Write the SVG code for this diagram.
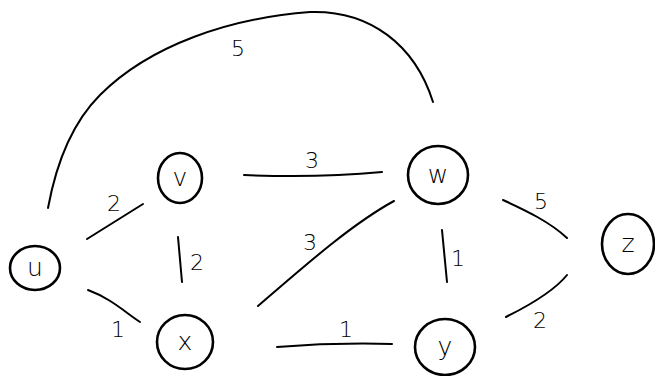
<svg xmlns="http://www.w3.org/2000/svg" width="655" height="376" viewBox="0 0 655 376">
<style>
.n{fill:none;stroke:#000;stroke-width:2.6}
.e{fill:none;stroke:#000;stroke-width:2;stroke-linecap:round}
text{font-family:"DejaVu Sans","Liberation Sans",sans-serif;font-weight:300;fill:#000}
.lb{font-size:25px;text-anchor:middle}
.w{font-size:22px;text-anchor:middle}
</style>
<rect width="655" height="376" fill="#fff"/>
<g id="connectors">
<path class="e" d="M48,208 C55,170 70,125 100,95 C150,45 230,18 310,12 C370,10 415,45 433,102"/>
<path class="e" d="M87,239 L143,204"/>
<path class="e" d="M178,237 L182,282"/>
<path class="e" d="M88,290 C110,298 125,312 140,322"/>
<path class="e" d="M244,175 C290,177 340,176 382,172"/>
<path class="e" d="M258,306 C300,270 350,225 394,201"/>
<path class="e" d="M277,347 C315,344 355,343 392,344"/>
<path class="e" d="M442,230 L447,282"/>
<path class="e" d="M503,200 C525,210 550,222 567,238"/>
<path class="e" d="M506,317 C530,305 555,290 567,275"/>
</g>
<g id="edge-labels">
<text class="w" x="238" y="56">5</text>
<text class="w" x="114" y="211">2</text>
<text class="w" x="197" y="270">2</text>
<text class="w" x="118" y="337">1</text>
<text class="w" x="312" y="168">3</text>
<text class="w" x="310" y="250">3</text>
<text class="w" x="346" y="337">1</text>
<text class="w" x="458" y="266">1</text>
<text class="w" x="541" y="209">5</text>
<text class="w" x="540" y="328">2</text>
</g>
<g id="u"><ellipse class="n" cx="35" cy="268" rx="25" ry="22"/><text class="lb" x="35" y="276">u</text></g>
<g id="v"><ellipse class="n" cx="180" cy="178" rx="22" ry="25"/><text class="lb" x="180" y="186">v</text></g>
<g id="w"><ellipse class="n" cx="438" cy="175" rx="30" ry="29"/><text class="lb" x="438" y="183">w</text></g>
<g id="x"><ellipse class="n" cx="185" cy="342" rx="28" ry="27"/><text class="lb" x="185" y="350">x</text></g>
<g id="y"><ellipse class="n" cx="445" cy="347" rx="30" ry="28"/><text class="lb" x="445" y="355">y</text></g>
<g id="z"><ellipse class="n" cx="628" cy="244" rx="26" ry="30"/><text class="lb" x="628" y="252">z</text></g>
</svg>
